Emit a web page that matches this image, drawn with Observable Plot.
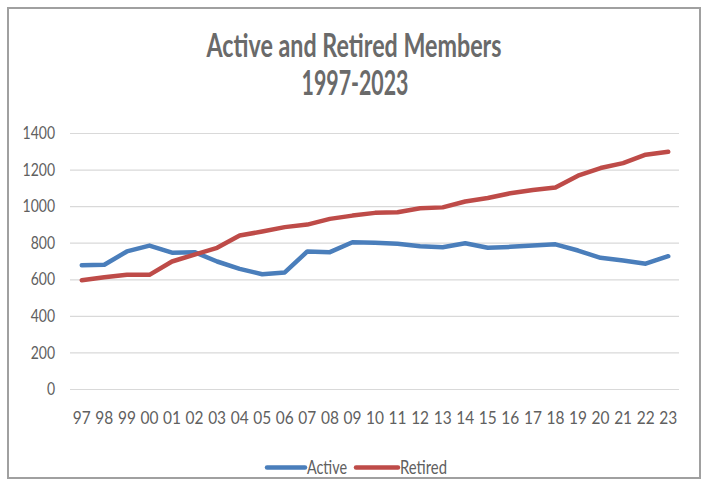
<!DOCTYPE html>
<html>
<head>
<meta charset="utf-8">
<script src="https://cdn.jsdelivr.net/npm/d3@7"></script>
<script src="https://cdn.jsdelivr.net/npm/@observablehq/plot@0.6"></script>
<style>
  html, body { margin: 0; padding: 0; background: #fff; }
  body { width: 706px; height: 481px; position: relative; overflow: hidden; font-family: Lato, "Open Sans", sans-serif; color: #595959; }
  #frame { position: absolute; left: 7px; top: 7px; width: 690px; height: 468px; border: 2px solid #a0a0a0; }
  #chart { position: absolute; left: 0; top: 110px; }
  #overlay { position: absolute; left: 0; top: 0; }
</style>
</head>
<body>
<div id="frame"></div>
<div id="chart"></div>
<svg id="overlay" width="706" height="481" font-family="Lato, 'Open Sans', sans-serif">
  <text x="354" y="57.3" text-anchor="middle" font-size="33" font-weight="bold" fill="#6a6a6a" textLength="295" lengthAdjust="spacingAndGlyphs">Active and Retired Members</text>
  <text x="355" y="95" text-anchor="middle" font-size="34" font-weight="bold" fill="#6a6a6a" textLength="107" lengthAdjust="spacingAndGlyphs">1997-2023</text>
  <g id="legend"></g>
</svg>
<script>
const years = ["97","98","99","00","01","02","03","04","05","06","07","08","09","10","11","12","13","14","15","16","17","18","19","20","21","22","23"];
const active = [680,682,755,787,748,751,700,660,630,640,755,751,805,802,797,784,778,800,775,780,787,794,760,720,705,688,729];
const retired = [598,614,627,627,700,738,775,842,864,888,902,933,951,966,969,991,996,1028,1047,1073,1091,1105,1169,1211,1238,1284,1300];
const yTicks = [0,200,400,600,800,1000,1200,1400];
const seriesNames = ["Active","Retired"];
const seriesColors = ["#4a7ebb","#be4b48"];

const data = [
  ...years.map((y,i)=>({year:y, value:active[i], series:"Active"})),
  ...years.map((y,i)=>({year:y, value:retired[i], series:"Retired"}))
];

const chart = Plot.plot({
  width: 706,
  height: 320,
  marginLeft: 70,
  marginRight: 27,
  marginTop: 23,
  marginBottom: 41,
  style: { fontFamily: 'Lato, "Open Sans", sans-serif', fontSize: "17.5px", color: "#606060", background: "transparent" },
  x: { type: "point", domain: years, padding: 0.5, round: false, label: null },
  y: { domain: [0,1400], label: null },
  color: { domain: seriesNames, range: seriesColors },
  marks: [
    Plot.gridY(yTicks, { stroke: "#d9d9d9", strokeOpacity: 1, strokeWidth: 1.2 }),
    Plot.axisY(yTicks, { tickSize: 0, tickPadding: 15.5, label: null, tickFormat: d3.format("d"), fontSize: 17.5 }),
    Plot.axisX({ tickSize: 0, tickPadding: 22, label: null, fontSize: 18 }),
    Plot.line(data, { x: "year", y: "value", z: "series", stroke: "series", strokeWidth: 4.5, strokeLinejoin: "round", strokeLinecap: "round" })
  ]
});
// narrow the tick labels horizontally (condensed look)
function narrow(sel, s) {
  chart.querySelectorAll(sel).forEach(el => {
    const t = el.getAttribute("transform");
    if (t) el.setAttribute("transform", t + ` scale(${s},1)`);
    else {
      const x = +el.getAttribute("x") || 0, y = +el.getAttribute("y") || 0;
      el.removeAttribute("x"); el.removeAttribute("y");
      el.setAttribute("transform", `translate(${x},${y}) scale(${s},1)`);
    }
  });
}
narrow('g[aria-label="y-axis tick label"] text', 0.8);
narrow('g[aria-label="x-axis tick label"] text', 0.86);
document.getElementById("chart").appendChild(chart);

// legend
const legendItems = [
  { name: seriesNames[0], color: seriesColors[0], x0: 267, x1: 305, tx: 307, tw: 40 },
  { name: seriesNames[1], color: seriesColors[1], x0: 356, x1: 398, tx: 400, tw: 47 }
];
const lg = d3.select("#legend");
legendItems.forEach(d => {
  lg.append("line").attr("x1", d.x0).attr("x2", d.x1).attr("y1", 467.5).attr("y2", 467.5)
    .attr("stroke", d.color).attr("stroke-width", 4.5).attr("stroke-linecap", "round");
  lg.append("text").attr("x", d.tx).attr("y", 474).attr("font-size", 20).attr("fill", "#606060")
    .attr("textLength", d.tw).attr("lengthAdjust", "spacingAndGlyphs").text(d.name);
});
</script>
</body>
</html>
